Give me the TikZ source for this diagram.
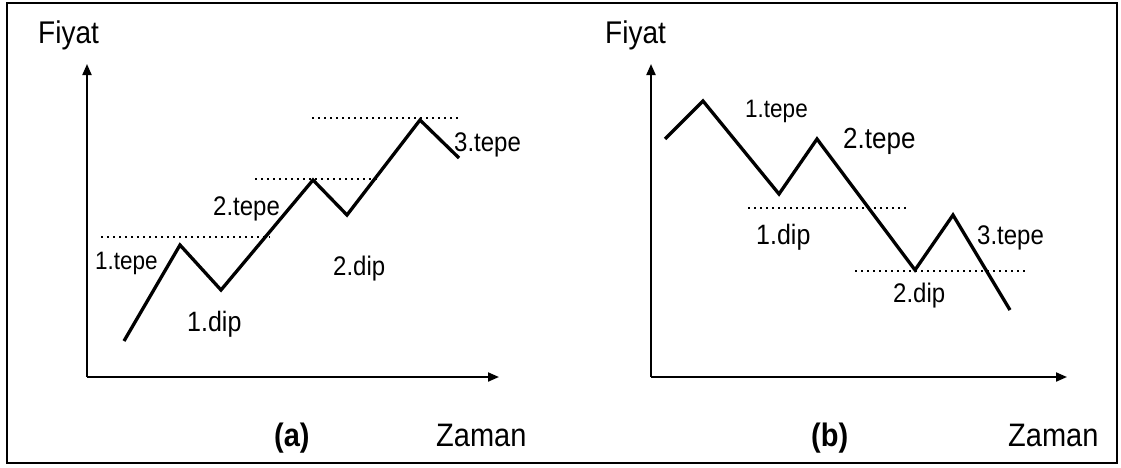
\documentclass[tikz,border=0pt]{standalone}
\usepackage{fontspec}
\usepackage{graphicx}
\setmainfont{Liberation Sans}
\usetikzlibrary{arrows.meta}
\newcommand{\tallt}[1]{\scalebox{1}[1.12]{#1}}
\tikzset{
  frame/.style={draw=black, line width=1.8pt},
  axis/.style={draw=black, line width=2pt, -{Triangle[length=11pt,width=9pt]}},
  price/.style={draw=black, line width=3.3pt, line join=miter},
  level/.style={draw=black, line width=1.5pt, dash pattern=on 2pt off 4pt},
  lbl/.style={inner sep=0pt, anchor=base west},
  fs/.style={lbl, font=\fontsize{#1}{#1}\selectfont},
  panelcap/.style={lbl, font=\bfseries\fontsize{29}{29}\selectfont},
}
\begin{document}
\begin{tikzpicture}[x=1pt,y=-1pt]
\useasboundingbox (0,0) rectangle (1121,467);
\fill[white] (0,0) rectangle (1121,467);
\draw[frame] (7,3) rectangle (1117,463);

% ---------- panel (a) ----------
\coordinate (aO) at (87,377);
\coordinate (aY) at (87,64);
\coordinate (aX) at (499,377);
\draw[axis] (aO) -- (aY);
\draw[axis] (aO) -- (aX);
\node[fs=28] (aFiyat) at (38,43) {\tallt{Fiyat}};
\node[fs=29] (aZaman) at (436,446) {\tallt{Zaman}};
\node[panelcap] (aCap) at (274,446) {\tallt{(a)}};

\coordinate (a0) at (124,341);
\coordinate (a1) at (180,245);
\coordinate (a2) at (221,290);
\coordinate (a3) at (313,180);
\coordinate (a4) at (347,215);
\coordinate (a5) at (420,120);
\coordinate (a6) at (459,158);
\draw[price] (a0) -- (a1) -- (a2) -- (a3) -- (a4) -- (a5) -- (a6);

\coordinate (aL1s) at (101,237); \coordinate (aL1e) at (270,237);
\coordinate (aL2s) at (255,179); \coordinate (aL2e) at (378,179);
\coordinate (aL3s) at (312,118); \coordinate (aL3e) at (458,118);
\draw[level] (aL1s) -- (aL1e);
\draw[level] (aL2s) -- (aL2e);
\draw[level] (aL3s) -- (aL3e);

\node[fs=22.5] (at1) at (95,269) {\tallt{1.tepe}};
\node[fs=25] (ad1) at (187,331) {\tallt{1.dip}};
\node[fs=24] (at2) at (213,215) {\tallt{2.tepe}};
\node[fs=24] (ad2) at (333,275) {\tallt{2.dip}};
\node[fs=24] (at3) at (454,151) {\tallt{3.tepe}};

% ---------- panel (b) ----------
\coordinate (bO) at (651,377);
\coordinate (bY) at (651,64);
\coordinate (bX) at (1067,377);
\draw[axis] (bO) -- (bY);
\draw[axis] (bO) -- (bX);
\node[fs=28] (bFiyat) at (605,43) {\tallt{Fiyat}};
\node[fs=29] (bZaman) at (1008,446) {\tallt{Zaman}};
\node[panelcap] (bCap) at (811,446) {\tallt{(b)}};

\coordinate (b0) at (665,139);
\coordinate (b1) at (703,101);
\coordinate (b2) at (779,194);
\coordinate (b3) at (817,139);
\coordinate (b4) at (915,270);
\coordinate (b5) at (953,215);
\coordinate (b6) at (1010,310);
\draw[price] (b0) -- (b1) -- (b2) -- (b3) -- (b4) -- (b5) -- (b6);

\coordinate (bL1s) at (748,208); \coordinate (bL1e) at (908,208);
\coordinate (bL2s) at (855,271); \coordinate (bL2e) at (1028,271);
\draw[level] (bL1s) -- (bL1e);
\draw[level] (bL2s) -- (bL2e);

\node[fs=22.5] (bt1) at (745,117) {\tallt{1.tepe}};
\node[fs=26] (bt2) at (843,148) {\tallt{2.tepe}};
\node[fs=25] (bd1) at (756,244) {\tallt{1.dip}};
\node[fs=24] (bt3) at (977,244) {\tallt{3.tepe}};
\node[fs=24] (bd2) at (893,302) {\tallt{2.dip}};
\end{tikzpicture}
\end{document}
